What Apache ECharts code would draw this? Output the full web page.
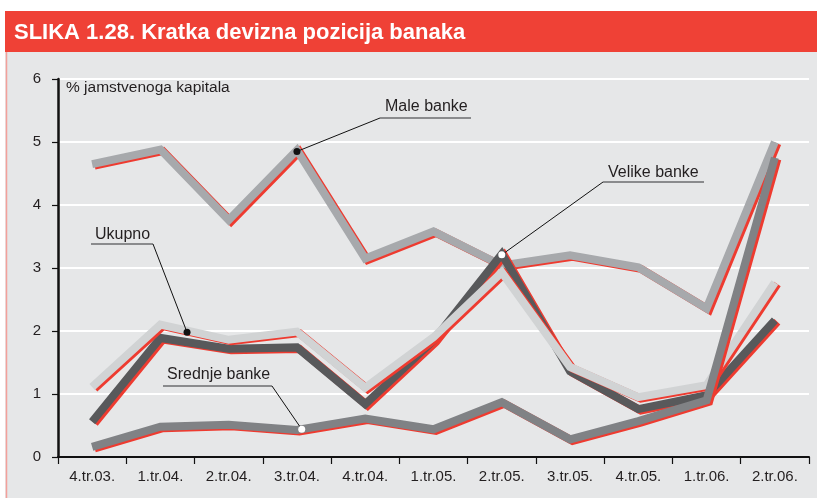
<!DOCTYPE html>
<html>
<head>
<meta charset="utf-8">
<script src="https://cdn.jsdelivr.net/npm/echarts@6/dist/echarts.min.js"></script>
<style>
  html, body { margin: 0; padding: 0; background: #fff; }
  #chart { width: 817px; height: 498px; }
</style>
</head>
<body>
<div id="chart"></div>
<script>
// kvartali
var categories = ['4.tr.03.', '1.tr.04.', '2.tr.04.', '3.tr.04.', '4.tr.04.', '1.tr.05.',
                  '2.tr.05.', '3.tr.05.', '4.tr.05.', '1.tr.06.', '2.tr.06.'];
// % jamstvenoga kapitala
var male    = [4.65, 4.88, 3.76, 4.87, 3.15, 3.58, 3.04, 3.20, 3.01, 2.36, 5.00];
var velike  = [0.56, 1.89, 1.72, 1.74, 0.84, 1.85, 3.22, 1.36, 0.76, 0.98, 2.17];
var ukupno  = [1.11, 2.10, 1.86, 1.99, 1.10, 1.90, 2.93, 1.43, 0.95, 1.14, 2.77];
var srednje = [0.16, 0.48, 0.51, 0.43, 0.61, 0.44, 0.87, 0.28, 0.57, 0.90, 4.75];
var yTicks  = [0, 1, 2, 3, 4, 5, 6];

var red = '#ee3b30';
var txt = '#231f20';
var font = '"Liberation Sans", Arial, sans-serif';

function line(name, data, color) {
  return {
    name: name,
    type: 'line',
    data: data,
    showSymbol: false,
    symbol: 'none',
    animation: false,
    lineStyle: {
      width: 8,
      color: color,
      join: 'miter',
      cap: 'butt',
      shadowColor: red,
      shadowBlur: 0,
      shadowOffsetX: 2.5,
      shadowOffsetY: 1.5
    }
  };
}

var myChart = echarts.init(document.getElementById('chart'));
myChart.setOption({
  backgroundColor: '#e6e7e8',
  animation: false,
  grid: { left: 58, right: 8, top: 79, bottom: 41 },
  xAxis: {
    type: 'category',
    data: categories,
    boundaryGap: true,
    axisLine: { lineStyle: { color: '#111', width: 2 } },
    axisTick: { show: true, length: 7, lineStyle: { color: '#111', width: 1.2 } },
    axisLabel: { color: txt, fontSize: 15, fontFamily: font, margin: 12, interval: 0 },
    splitLine: { show: false }
  },
  yAxis: {
    type: 'value',
    min: yTicks[0],
    max: yTicks[yTicks.length - 1],
    interval: 1,
    axisLine: { show: true, lineStyle: { color: '#111', width: 2.5 } },
    axisTick: { show: true, length: 6, lineStyle: { color: '#111', width: 1.2 } },
    axisLabel: { color: txt, fontSize: 15, fontFamily: font, margin: 17 },
    splitLine: { show: true, lineStyle: { color: '#ffffff', width: 2 } }
  },
  series: [
    line('Male banke', male, '#a7a9ac'),
    line('Velike banke', velike, '#58595b'),
    line('Ukupno', ukupno, '#d1d3d4'),
    line('Srednje banke', srednje, '#808285')
  ]
});

// oznake: tocka na liniji (kategorija, vrijednost), natpis i podcrta u pikselima
var notes = [
  { text: 'Male banke',    at: [3, 4.85],    dot: '#111', tx: 385, ty: 112, r0: 380, r1: 471, ry: 118, end: 'left' },
  { text: 'Velike banke',  at: [6, 3.21],    dot: '#fff', tx: 608, ty: 178, r0: 603, r1: 704, ry: 182, end: 'left' },
  { text: 'Ukupno',        at: [1.39, 1.98], dot: '#111', tx: 95,  ty: 240, r0: 91,  r1: 153, ry: 244, end: 'right' },
  { text: 'Srednje banke', at: [3.07, 0.44], dot: '#fff', tx: 167, ty: 380, r0: 163, r1: 272, ry: 386, end: 'right' }
];

function toPx(i, v) {
  var k = Math.floor(i), f = i - k;
  var a = myChart.convertToPixel({ gridIndex: 0 }, [k, v]);
  if (f === 0) return a;
  var b = myChart.convertToPixel({ gridIndex: 0 }, [k + 1, v]);
  return [a[0] + (b[0] - a[0]) * f, a[1]];
}

var g = [
  { type: 'rect', z: -5, shape: { x: 0, y: 0, width: 817, height: 11 }, style: { fill: '#fff' } },
  { type: 'rect', z: -5, shape: { x: 0, y: 0, width: 5, height: 498 }, style: { fill: '#fff' } },
  { type: 'rect', z: 5, shape: { x: 5, y: 11, width: 812, height: 41 }, style: { fill: '#ef4136' } },
  { type: 'line', z: 5, shape: { x1: 6.5, y1: 52, x2: 6.5, y2: 498 }, style: { stroke: '#f3a09a', lineWidth: 1.5 } },
  { type: 'text', z: 6, style: { x: 14, y: 33, text: 'SLIKA 1.28. Kratka devizna pozicija banaka',
      font: 'bold 22px ' + font, fill: '#fff', verticalAlign: 'middle' } },
  { type: 'text', z: 6, style: { x: 66, y: 88, text: '% jamstvenoga kapitala',
      font: '15.5px ' + font, fill: txt, verticalAlign: 'middle' } }
];

notes.forEach(function (n) {
  var p = toPx(n.at[0], n.at[1]);
  var ex = n.end === 'left' ? n.r0 : n.r1;
  g.push({ type: 'line', z: 20, shape: { x1: n.r0, y1: n.ry, x2: n.r1, y2: n.ry },
    style: { stroke: '#8a8b8d', lineWidth: 2 } });
  g.push({ type: 'line', z: 20, shape: { x1: ex, y1: n.ry, x2: p[0], y2: p[1] },
    style: { stroke: '#111', lineWidth: 1 } });
  g.push({ type: 'circle', z: 21, shape: { cx: p[0], cy: p[1], r: 3.5 }, style: { fill: n.dot } });
  g.push({ type: 'text', z: 20, style: { x: n.tx, y: n.ty - 5.5, text: n.text,
    font: '16px ' + font, fill: txt, verticalAlign: 'middle' } });
});

myChart.setOption({ graphic: g });
</script>
</body>
</html>
